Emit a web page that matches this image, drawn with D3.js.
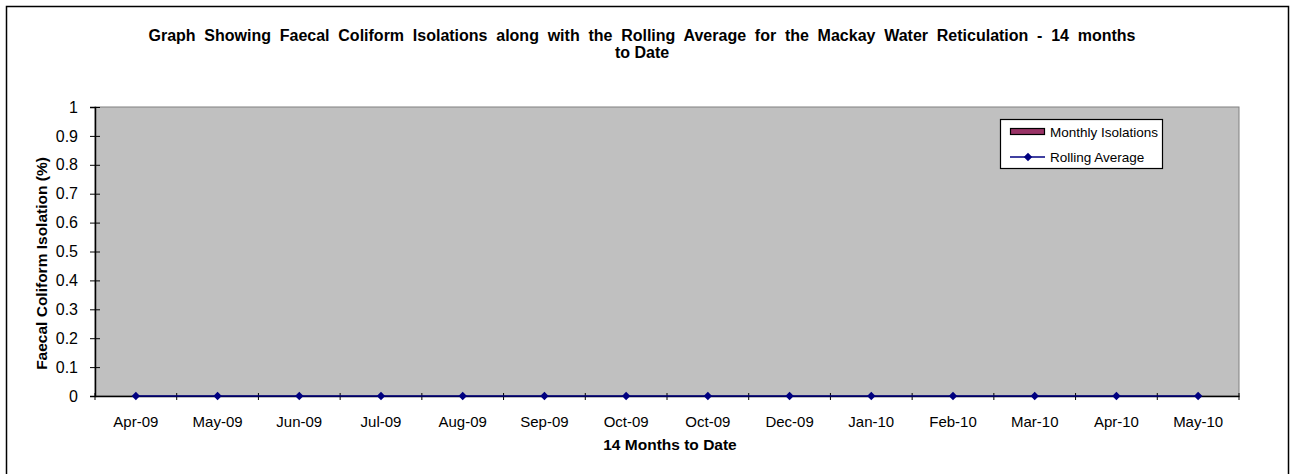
<!DOCTYPE html>
<html><head><meta charset="utf-8">
<script src="https://cdn.jsdelivr.net/npm/d3@7"></script>
<style>body{margin:0;background:#fff;} svg{display:block;font-family:Arial,"Liberation Sans",sans-serif;}</style>
</head><body>
<svg id="c" width="1294" height="474"></svg>
<script>
const categories = ["Apr-09","May-09","Jun-09","Jul-09","Aug-09","Sep-09","Oct-09","Oct-09","Dec-09","Jan-10","Feb-10","Mar-10","Apr-10","May-10"];
const monthlyIsolations = [0,0,0,0,0,0,0,0,0,0,0,0,0,0];
const rollingAverage = [0,0,0,0,0,0,0,0,0,0,0,0,0,0];
const yTicks = [0,0.1,0.2,0.3,0.4,0.5,0.6,0.7,0.8,0.9,1];

const FF = "Arial,'Liberation Sans',sans-serif";
const svg = d3.select("#c");
svg.append("rect").attr("x",6.5).attr("y",6.5).attr("width",1282).attr("height",470)
  .attr("fill","#fff").attr("stroke","#000").attr("stroke-width",1.5);

const L=95, R=1239, T=107, B=396;
const idx = categories.map((d,i)=>i);
const x = d3.scaleBand().domain(idx).range([L,R]);
const y = d3.scaleLinear().domain([0,1]).range([B,T]);

svg.append("rect").attr("x",L).attr("y",T).attr("width",R-L).attr("height",B-T)
  .attr("fill","#C0C0C0").attr("stroke","#808080").attr("stroke-width",1);

// bars (all zero)
svg.append("g").selectAll("rect").data(monthlyIsolations).join("rect")
  .attr("x",(d,i)=>x(i)+x.bandwidth()*0.25).attr("width",x.bandwidth()*0.5)
  .attr("y",d=>y(d)).attr("height",d=>B-y(d)).attr("fill","#993366").attr("stroke","#000");

// y axis
const ya = svg.append("g").attr("transform",`translate(${L},0)`)
  .call(d3.axisLeft(y).tickValues(yTicks).tickFormat(d3.format("~g")).tickSize(5).tickPadding(12));
ya.select(".domain").attr("stroke","#000").attr("stroke-width",1.5);
ya.selectAll(".tick line").attr("stroke","#000").attr("x2",-5).attr("x1",5);
ya.selectAll(".tick text").attr("font-size",16).attr("fill","#000").attr("font-family",FF);

// x axis
const xa = svg.append("g").attr("transform",`translate(0,${B})`)
  .call(d3.axisBottom(x).tickFormat(i=>categories[i]).tickSize(0).tickPadding(20));
xa.select(".domain").attr("stroke","#000").attr("stroke-width",1.5);
xa.selectAll(".tick text").attr("font-size",15).attr("fill","#000").attr("font-family",FF);
// category boundary ticks
const bounds = idx.map(i=>x(i)).concat([R]);
svg.append("g").selectAll("line").data(bounds).join("line")
  .attr("x1",d=>d).attr("x2",d=>d).attr("y1",B-3).attr("y2",B+4)
  .attr("stroke","#000").attr("stroke-width",1);

// rolling average line
const cx = i=>x(i)+x.bandwidth()/2;
svg.append("path").datum(rollingAverage)
  .attr("d",d3.line().x((d,i)=>cx(i)).y(d=>y(d)))
  .attr("fill","none").attr("stroke","#000080").attr("stroke-width",1.5);
svg.append("g").selectAll("path").data(rollingAverage).join("path")
  .attr("d",d3.symbol(d3.symbolDiamond2,45))
  .attr("transform",(d,i)=>`translate(${cx(i)},${y(d)})`).attr("fill","#000080");

// title
const title = svg.append("text").attr("text-anchor","middle").attr("font-weight","bold")
  .attr("font-size",16).attr("fill","#000");
title.append("tspan").attr("x",642).attr("y",41).attr("word-spacing",4.3)
  .text("Graph Showing Faecal Coliform Isolations along with the Rolling Average for the Mackay Water Reticulation - 14 months");
title.append("tspan").attr("x",642).attr("y",58).text("to Date");

svg.append("text").attr("x",(L+R)/2+3).attr("y",450).attr("text-anchor","middle")
  .attr("font-weight","bold").attr("font-size",15.5).text("14 Months to Date");
svg.append("text").attr("transform",`translate(47,${(T+B)/2+12}) rotate(-90)`).attr("text-anchor","middle")
  .attr("font-weight","bold").attr("font-size",15.5).text("Faecal Coliform Isolation (%)");

// legend
const lg = svg.append("g");
lg.append("rect").attr("x",1000.5).attr("y",119.5).attr("width",162).attr("height",49)
  .attr("fill","#fff").attr("stroke","#000").attr("stroke-width",1.2);
lg.append("rect").attr("x",1010.5).attr("y",128.5).attr("width",34).attr("height",6)
  .attr("fill","#993366").attr("stroke","#000").attr("stroke-width",1.2);
lg.append("text").attr("x",1050).attr("y",136.5).attr("font-size",13.5).text("Monthly Isolations");
lg.append("line").attr("x1",1010).attr("x2",1045).attr("y1",157).attr("y2",157).attr("stroke","#000080").attr("stroke-width",1.5);
lg.append("path").attr("d",d3.symbol(d3.symbolDiamond2,45)).attr("transform","translate(1028,157)").attr("fill","#000080");
lg.append("text").attr("x",1050).attr("y",161.5).attr("font-size",13.5).text("Rolling Average");
</script>
</body></html>
